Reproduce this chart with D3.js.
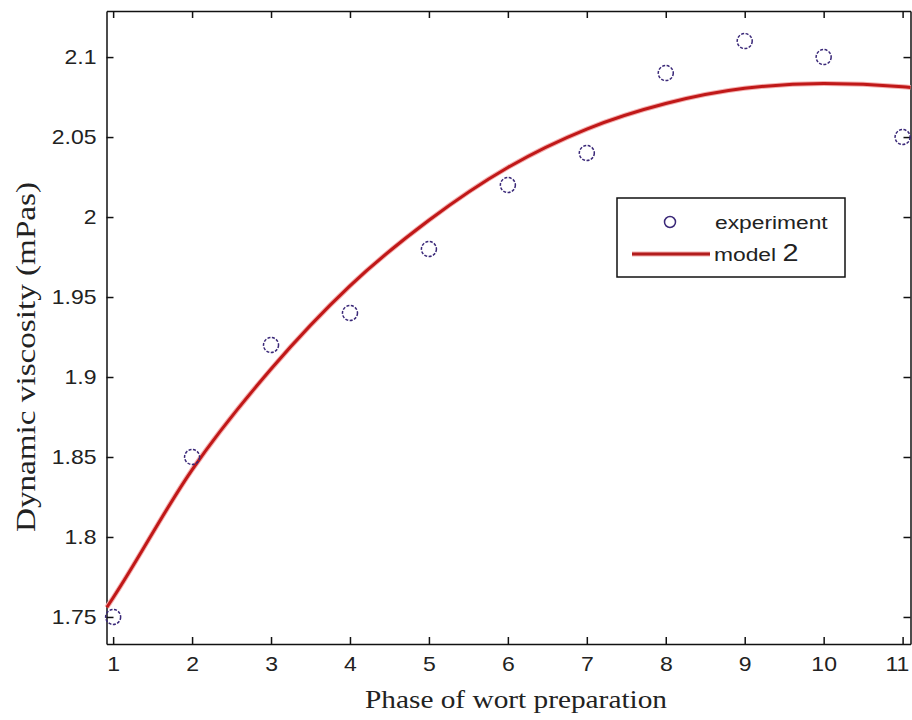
<!DOCTYPE html>
<meta charset="utf-8">
<head>
    <script src="https://d3js.org/d3.v7.min.js"></script>
    <title>Dynamic viscosity</title>
</head>
<body>
    <div id="viz"></div>
</body>
<style>
    body { margin: 0; background: #fff; }
    .tick text { font-family: 'Liberation Sans', Arial, sans-serif; font-size: 20px; fill: #222; }
    .axis path, .axis line { stroke: #111; stroke-width: 1.5; }
    .title { font-family: 'Liberation Serif', 'Times New Roman', serif; fill: #222; }
    .leg { font-family: 'Liberation Sans', Arial, sans-serif; fill: #222; }
</style>
<script>
    // experiment points
    var phase = [1, 2, 3, 4, 5, 6, 7, 8, 9, 10, 11]
    var viscosity = [1.75, 1.85, 1.92, 1.94, 1.98, 2.02, 2.04, 2.09, 2.11, 2.10, 2.05]

    // model 2 curve
    var modelX = [0.92, 1, 2, 3, 4, 5, 6, 7, 8, 9, 10, 11, 11.1]
    var modelY = [1.756, 1.762, 1.842, 1.905, 1.957, 1.998, 2.031, 2.055, 2.071, 2.0805, 2.0835, 2.0815, 2.081]

    var xTicks = [1, 2, 3, 4, 5, 6, 7, 8, 9, 10, 11]
    var yTicks = [1.75, 1.8, 1.85, 1.9, 1.95, 2, 2.05, 2.1]

    var margin = { top: 11, right: 1.5, bottom: 76, left: 106.5 },
        width = 912 - margin.left - margin.right,
        height = 720 - margin.top - margin.bottom;

    var svg = d3.select("#viz")
        .append("svg")
        .attr("width", 912)
        .attr("height", 720)
        .append("g")
        .attr("transform", "translate(" + margin.left + "," + margin.top + ")");

    var x = d3.scaleLinear().domain([0.916, 11.1]).range([0, width]);
    var y = d3.scaleLinear().domain([1.7331, 2.1288]).range([height, 0]);

    // box with inward ticks on all sides
    var xAxisG = svg.append("g").attr("class", "axis")
        .attr("transform", "translate(0," + height + ")")
        .call(d3.axisBottom(x).tickValues(xTicks).tickSizeInner(-7).tickSizeOuter(0).tickPadding(13));
    xAxisG.selectAll(".tick text").attr("transform", "scale(1.15,1)");
    // last label sits at the right edge, pull it in a little
    xAxisG.selectAll(".tick text").filter(function (d) { return d === 11; }).attr("dx", -5);
    svg.append("g").attr("class", "axis")
        .call(d3.axisTop(x).tickValues(xTicks).tickSizeInner(-7).tickSizeOuter(0).tickFormat(""));
    svg.append("g").attr("class", "axis")
        .call(d3.axisLeft(y).tickValues(yTicks).tickSizeInner(-7).tickSizeOuter(0).tickPadding(8.7)
            .tickFormat(function (d) { return d3.format("")(+d.toFixed(2)); }))
        .selectAll(".tick text").attr("transform", "scale(1.15,1)");
    svg.append("g").attr("class", "axis")
        .attr("transform", "translate(" + width + ",0)")
        .call(d3.axisRight(y).tickValues(yTicks).tickSizeInner(-7).tickSizeOuter(0).tickFormat(""));

    // model line
    var modelData = modelX.map(function (d, i) { return [d, modelY[i]]; });
    var line = d3.line()
        .x(function (d) { return x(d[0]); })
        .y(function (d) { return y(d[1]); })
        .curve(d3.curveMonotoneX);
    svg.append("path")
        .datum(modelData)
        .attr("fill", "none")
        .attr("stroke", "#f4b0b0")
        .attr("stroke-width", 5)
        .attr("d", line);
    svg.append("path")
        .datum(modelData)
        .attr("fill", "none")
        .attr("stroke", "#c01818")
        .attr("stroke-width", 3)
        .attr("d", line);

    // experiment circles
    svg.selectAll(".pt")
        .data(phase)
        .enter()
        .append("circle")
        .attr("class", "pt")
        .attr("cx", function (d) { return x(d); })
        .attr("cy", function (d, i) { return y(viscosity[i]); })
        .attr("r", 7.5)
        .attr("fill", "none")
        .attr("stroke", "#3a2878")
        .attr("stroke-width", 1.5)
        .attr("stroke-dasharray", "3,1.5");

    // legend
    var lg = svg.append("g").attr("transform", "translate(" + (617 - margin.left) + "," + (198 - margin.top) + ")");
    lg.append("rect")
        .attr("width", 228).attr("height", 79)
        .attr("fill", "#fff").attr("stroke", "#111").attr("stroke-width", 1.5);
    lg.append("circle")
        .attr("cx", 53).attr("cy", 24).attr("r", 5.5)
        .attr("fill", "none").attr("stroke", "#3a2878").attr("stroke-width", 1.5);
    lg.append("text")
        .attr("class", "leg")
        .attr("transform", "translate(98,31) scale(1.2,1)")
        .style("font-size", "19px")
        .text("experiment");
    lg.append("line")
        .attr("x1", 15).attr("x2", 93).attr("y1", 56).attr("y2", 56)
        .attr("stroke", "#f4b0b0").attr("stroke-width", 5);
    lg.append("line")
        .attr("x1", 15).attr("x2", 93).attr("y1", 56).attr("y2", 56)
        .attr("stroke", "#b21c1c").attr("stroke-width", 3);
    var mt = lg.append("text")
        .attr("class", "leg")
        .attr("transform", "translate(97,63) scale(1.2,1)")
        .style("font-size", "19px");
    mt.append("tspan").text("model ");
    mt.append("tspan").style("font-size", "24px").text("2");

    // axis titles
    svg.append("text")
        .attr("class", "title")
        .attr("text-anchor", "middle")
        .attr("x", 516 - margin.left)
        .attr("y", 708 - margin.top)
        .attr("textLength", 302)
        .attr("lengthAdjust", "spacingAndGlyphs")
        .style("font-size", "26px")
        .text("Phase of wort preparation");
    svg.append("text")
        .attr("class", "title")
        .attr("text-anchor", "middle")
        .attr("transform", "translate(" + (35 - margin.left) + "," + (357 - margin.top) + ") rotate(-90)")
        .attr("textLength", 350)
        .attr("lengthAdjust", "spacingAndGlyphs")
        .style("font-size", "27px")
        .text("Dynamic viscosity (mPas)");
</script>
